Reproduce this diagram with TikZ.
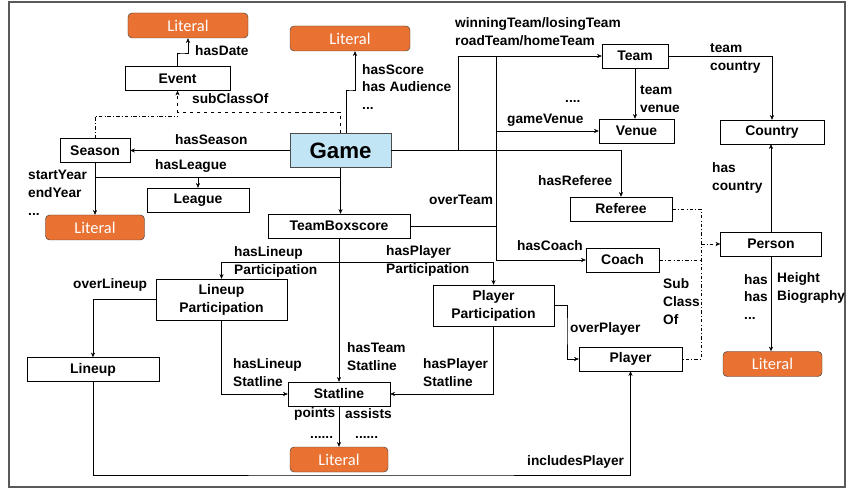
\documentclass[tikz,border=0pt]{standalone}
\usepackage{fontspec}
\setmainfont{Liberation Sans}
\newfontfamily\litfamily{Carlito}
\usetikzlibrary{arrows.meta, calc, shadows}
\definecolor{litorange}{HTML}{E97132}
\definecolor{gameblue}{HTML}{C1E5F5}
\newcommand{\lblfont}{\fontsize{11.7}{15.3}\selectfont\bfseries}
\newcommand{\boxfont}{\fontsize{11.9}{15.3}\selectfont\bfseries}

\begin{document}
\begin{tikzpicture}[
    x=0.03cm, y=-0.03cm,
    obj/.style={rectangle, draw, fill=white, font=\boxfont, align=center, inner sep=1pt, minimum height=0.72cm, drop shadow={shadow xshift=0.6pt, shadow yshift=-0.8pt, fill=black!55, opacity=1}},
    game/.style={obj, fill=gameblue, draw=black!70, font=\fontsize{19}{21}\selectfont\bfseries, minimum height=1.02cm},
    literal/.style={rectangle, draw=black!75, fill=litorange, rounded corners=3.5pt, text=white, font=\fontsize{14}{16}\selectfont\litfamily, minimum height=0.75cm},
    lbl/.style={font=\lblfont, align=left, inner sep=0pt, anchor=west},
    arr/.style={-{Stealth[length=4pt, width=3.5pt]}},
    frame/.style={draw=black!65, line width=0.9pt}
]
\useasboundingbox (0,0) rectangle (846,489);
\draw[frame] (9,2) rectangle (845,487);

% Game and its context
\node[literal, minimum width=3.6cm] (litDate) at (188,25.5) {Literal};
\node[obj, minimum width=3.15cm] (event) at (177.5,78.5) {Event};
\node[obj, minimum width=2.1cm] (season) at (95,150.5) {Season};
\node[obj, minimum width=3.06cm] (league) at (198,200) {League};
\node[literal, minimum width=2.97cm] (litYear) at (95,227.5) {Literal};
\node[literal, minimum width=3.6cm] (litScore) at (350,38.5) {Literal};
\node[game, minimum width=3.03cm] (game) at (340.5,150.5) {Game};
\node[obj, minimum width=4.26cm] (teambox) at (339,226) {TeamBoxscore};

% Right side: teams and persons
\node[obj, minimum width=1.98cm] (team) at (635,56) {Team};
\node[obj, minimum width=2.25cm] (venue) at (636.5,131) {Venue};
\node[obj, minimum width=3.12cm] (country) at (772,132) {Country};
\node[obj, minimum width=3.06cm] (referee) at (621,209) {Referee};
\node[obj, minimum width=3.03cm] (person) at (771,244) {Person};
\node[obj, minimum width=2.19cm] (coach) at (622.5,260) {Coach};
\node[literal, minimum width=2.97cm] (litPerson) at (772.5,364) {Literal};

% Bottom: participations and statlines
\node[obj, minimum width=3.93cm, minimum height=1.23cm] (lineuppart) at (221.5,299.5) {Lineup\\Participation};
\node[obj, minimum width=3.63cm, minimum height=1.23cm] (playerpart) at (493.5,305.5) {Player\\Participation};
\node[obj, minimum width=3.96cm] (lineup) at (93,369.5) {Lineup};
\node[obj, minimum width=3.09cm] (player) at (630.5,359) {Player};
\node[obj, minimum width=3.06cm] (statline) at (339,394) {Statline};
\node[literal, minimum width=2.94cm] (litStat) at (339,459.5) {Literal};

% Arrows around Game
\draw[arr] (event.north) |- (182,53) -| (litDate.south);
\draw[arr] ($(game.north)+(6,0)$) |- (351,90) -| ($(litScore.south)+(5,0)$);
\draw[arr, dashed] (game.north) |- (260,112) -| (event.south);
\draw[dash dot] (season.north) |- (event.south |- 0,116);
\draw[arr] (game.west) -- (season.east);
\draw (season.south |- 0,177) -- (game.south |- 0,177);
\draw[arr] (league.north |- 0,177) -- (league.north);
\draw[arr] (season.south) -- (litYear.north);
\draw[arr] (game.south) -- (game.south |- teambox.north);
\draw[arr] (game.east) -| (referee.north);
\draw[arr] (game.east -| 458,0) |- (team.west);
\draw[arr] (team.west -| 496,0) |- (coach.west);
\draw (teambox.east) -- (teambox.east -| 496,0);
\draw[arr] (venue.west -| 496,0) -- (venue.west);

% Team, Person
\draw[arr] (team.south) -- (team.south |- venue.north);
\draw[arr] (team.east) -| (country.north);
\draw[arr] (person.north) -- (person.north |- country.south);
\draw[arr] (person.south) -- (person.south |- litPerson.north);
\draw[dash dot] (referee.east) -- (referee.east -| 701,0) -- (player.east -| 701,0) -- (player.east);
\draw[dash dot] (coach.east) -- (coach.east -| 701,0);
\draw[arr, dash dot] (person.west -| 701,0) -- (person.west);

% Boxscore down to statlines
\draw[arr] (teambox.south |- 0,262) -| (lineuppart.north);
\draw[arr] (teambox.south |- 0,262) -| (playerpart.north);
\draw[arr] (teambox.south) -- (statline.north);
\draw[arr] (lineuppart.west) -| (lineup.north);
\draw[arr] (lineuppart.south) |- (statline.west);
\draw[arr] (playerpart.south) |- (statline.east);
\draw[arr] (playerpart.east) -| (567,330) |- (player.west);
\draw[arr] (statline.south) -- (litStat.north);
\draw[arr] (lineup.south) |- (400,475) -| (player.south);

% Labels
\node[lbl] (lDate) at (195,51) {hasDate};
\node[lbl] (lSub) at (192,99) {subClassOf};
\node[lbl] (lSeason) at (175,140) {hasSeason};
\node[lbl] (lLeague) at (155,166) {hasLeague};
\node[lbl] (lYear) at (28,193) {startYear\\endYear\\...};
\node[lbl] (lScore) at (362,87) {hasScore\\has Audience\\...};
\node[lbl] (lTeam) at (455,32) {winningTeam/losingTeam\\roadTeam/homeTeam};
\node[lbl] (lTeamCountry) at (710,58) {team\\country};
\node[lbl] (lTeamVenue) at (640,99) {team\\venue};
\node[lbl, anchor=base west] (lDots) at (565,103) {....};
\node[lbl] (lVenue) at (507,120) {gameVenue};
\node[lbl] (lCountry) at (712,178) {has\\country};
\node[lbl] (lReferee) at (538,181) {hasReferee};
\node[lbl] (lOverTeam) at (429,200) {overTeam};
\node[lbl] (lCoach) at (517,246) {hasCoach};
\node[lbl] (lLineupPart) at (234,262) {hasLineup\\Participation};
\node[lbl] (lPlayerPart) at (386,261) {hasPlayer\\Participation};
\node[lbl] (lOverLineup) at (73,285) {overLineup};
\node[lbl] (lSubClass) at (663,302) {Sub\\Class\\Of};
\node[lbl] (lHas) at (744,297) {has\\has\\...};
\node[lbl] (lHeight) at (777,288) {Height\\Biography};
\node[lbl] (lOverPlayer) at (570,329) {overPlayer};
\node[lbl] (lLineupStat) at (233,373) {hasLineup\\Statline};
\node[lbl] (lTeamStat) at (347,357) {hasTeam\\Statline};
\node[lbl] (lPlayerStat) at (423,373) {hasPlayer\\Statline};
\node[lbl] (lPoints) at (294,414) {points};
\node[lbl] (lAssists) at (345,414) {assists};
\node[lbl, anchor=base west] (lDotsA) at (310,438) {......};
\node[lbl, anchor=base west] (lDotsB) at (355,438) {......};
\node[lbl] (lIncludes) at (527,462) {includesPlayer};
\end{tikzpicture}
\end{document}
